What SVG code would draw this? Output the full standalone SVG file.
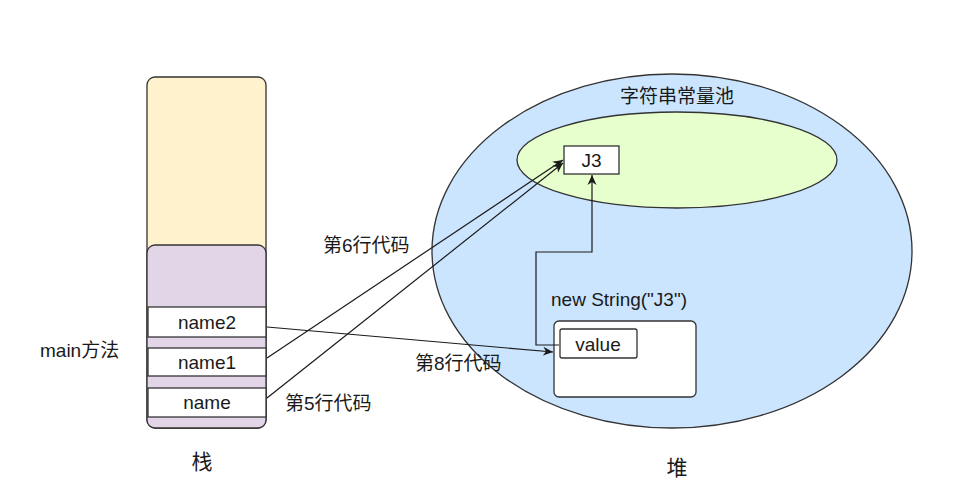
<svg xmlns="http://www.w3.org/2000/svg" width="966" height="500" viewBox="0 0 966 500">
<style>
text{font-family:"Liberation Sans","Noto Sans CJK SC",sans-serif;fill:#1a1a1a;}
.t18{font-size:19px;}
.box{fill:#fff;stroke:#333;stroke-width:1.3;}
.line{fill:none;stroke:#1a1a1a;stroke-width:1.2;}
</style>
<defs>
<marker id="arr" markerWidth="12" markerHeight="12" refX="10" refY="6" orient="auto" markerUnits="userSpaceOnUse">
<path d="M0,1.5 L10,6 L0,10.5 L3,6 Z" fill="#1a1a1a"/>
</marker>
</defs>
<rect width="966" height="500" fill="#fff"/>
<g id="stack">
<rect x="147" y="77" width="119" height="351" rx="8" fill="#fff2cc" stroke="#333" stroke-width="1.3"/>
<rect x="147" y="245" width="119" height="183" rx="8" fill="#e1d5e7" stroke="#333" stroke-width="1.3"/>
</g>
<g id="name2"><rect class="box" x="148" y="307" width="118" height="30"/><text class="t18" x="207" y="329" text-anchor="middle">name2</text></g>
<g id="name1"><rect class="box" x="148" y="348" width="118" height="28"/><text class="t18" x="207" y="369" text-anchor="middle">name1</text></g>
<g id="name"><rect class="box" x="148" y="388" width="118" height="29"/><text class="t18" x="207" y="409" text-anchor="middle">name</text></g>
<g id="heap"><ellipse cx="672" cy="251" rx="240" ry="177" fill="#cce5ff" stroke="#333" stroke-width="1.3"/></g>
<g id="pool"><ellipse cx="677" cy="160" rx="160" ry="48" fill="#e6ffcc" stroke="#333" stroke-width="1.3"/>
<text class="t18" x="677" y="103" text-anchor="middle">字符串常量池</text></g>
<g id="j3"><rect class="box" x="564" y="146" width="55" height="28"/><text class="t18" x="591.5" y="167" text-anchor="middle">J3</text></g>
<g id="strobj"><text class="t18" x="551" y="306">new String("J3")</text>
<rect class="box" x="554" y="321" width="142" height="76" rx="5"/></g>
<g id="value"><rect class="box" x="560" y="329" width="77" height="29" rx="2"/><text class="t18" x="598" y="351" text-anchor="middle">value</text></g>
<g id="connectors">
<path class="line" d="M559,345 H536 V252 H592 V175" marker-end="url(#arr)"/>
<path class="line" d="M267,327 L553,352" marker-end="url(#arr)"/>
<path class="line" d="M267,358 L563,160" marker-end="url(#arr)"/>
<path class="line" d="M267,398 L563,163" marker-end="url(#arr)"/>
</g>
<g id="labels">
<text class="t18" x="323" y="252">第6行代码</text>
<text class="t18" x="415" y="370">第8行代码</text>
<text class="t18" x="285" y="410">第5行代码</text>
<text class="t18" x="40" y="357">main方法</text>
<text x="202" y="469" font-size="21" text-anchor="middle">栈</text>
<text x="677" y="475" font-size="21" text-anchor="middle">堆</text>
</g>
</svg>
